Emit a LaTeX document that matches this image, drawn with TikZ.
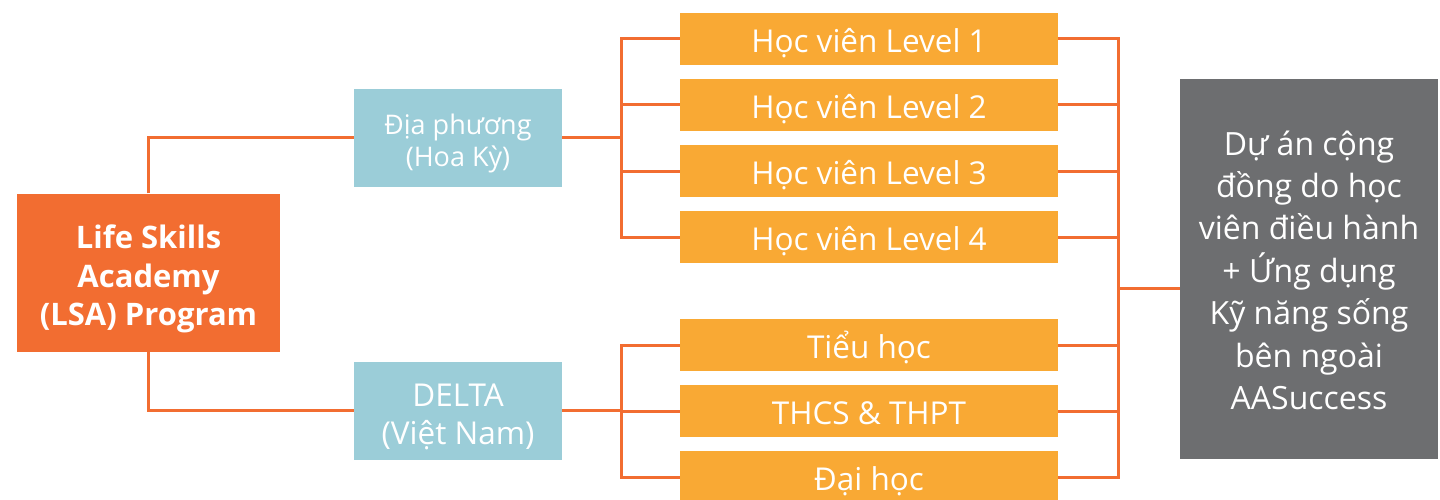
\documentclass[tikz,border=0pt]{standalone}
\usepackage{fontspec}
\setmainfont{Open Sans}
\definecolor{lsaorange}{HTML}{F26D31}
\definecolor{boxorange}{HTML}{F9A934}
\definecolor{boxblue}{HTML}{9BCDD8}
\definecolor{boxgrey}{HTML}{6D6E70}
\tikzset{
  lsabox/.style={rectangle, fill=lsaorange, text=white, inner sep=0pt,
    minimum width=263pt, minimum height=158pt, align=center,
    text height=106pt, text depth=0pt,
    font=\fontsize{31}{38.3}\selectfont\bfseries},
  placebox/.style={rectangle, fill=boxblue, text=white, inner sep=0pt,
    minimum width=208pt, minimum height=98pt, align=center, text depth=0pt},
  levelbox/.style={rectangle, fill=boxorange, text=white, inner sep=0pt,
    minimum width=378pt, minimum height=52pt,
    text height=27.4pt, text depth=0pt,
    font=\fontsize{31.5}{36}\selectfont},
  outbox/.style={rectangle, fill=boxgrey, text=white, inner sep=0pt,
    minimum width=258pt, minimum height=380pt, align=center,
    text height=281pt, text depth=0pt,
    font=\fontsize{32}{42.4}\selectfont}
}
\begin{document}
\begin{tikzpicture}[x=1pt,y=-1pt]
    \useasboundingbox (0,0) rectangle (1440,500);
    %% Draw the nodes
    \node[lsabox] (lsa) at (148.5,272.5) {Life Skills\\Academy\\(LSA) Program};
    \node[placebox, text height=56.6pt, font=\fontsize{27}{32.3}\selectfont] (local) at (458,138) {Địa phương\\(Hoa Kỳ)};
    \node[placebox, text height=67pt, font=\fontsize{31.5}{37.4}\selectfont] (delta) at (458,410.5) {DELTA\\(Việt Nam)};
    \node[levelbox] (lv1) at (869,39) {Học viên Level 1};
    \node[levelbox] (lv2) at (869,105) {Học viên Level 2};
    \node[levelbox] (lv3) at (869,171) {Học viên Level 3};
    \node[levelbox] (lv4) at (869,237) {Học viên Level 4};
    \node[levelbox] (sch1) at (869,345) {Tiểu học};
    \node[levelbox] (sch2) at (869,411) {THCS \& THPT};
    \node[levelbox] (sch3) at (869,477) {Đại học};
    \node[outbox] (proj) at (1309,269) {Dự án cộng\\đồng do học\\viên điều hành\\+ Ứng dụng\\Kỹ năng sống\\bên ngoài\\AASuccess};
    \coordinate (hub) at (1118,288);
    %% Draw the edges
    \begin{scope}[every path/.style={draw=lsaorange, line width=3pt}]
      \draw (lsa.north) |- (local.west);
      \draw (lsa.south) |- (delta.west);
      \foreach \n in {lv1,lv2,lv3,lv4}
        \draw (local.east) -- ++(59,0) |- (\n.west);
      \foreach \n in {sch1,sch2,sch3}
        \draw (delta.east) -- ++(59,0) |- (\n.west);
      \foreach \n in {lv1,lv2,lv3,lv4,sch1,sch2,sch3}
        \draw (\n.east) -| (hub);
      \draw (hub) -- (hub -| proj.west);
    \end{scope}
\end{tikzpicture}
\end{document}
